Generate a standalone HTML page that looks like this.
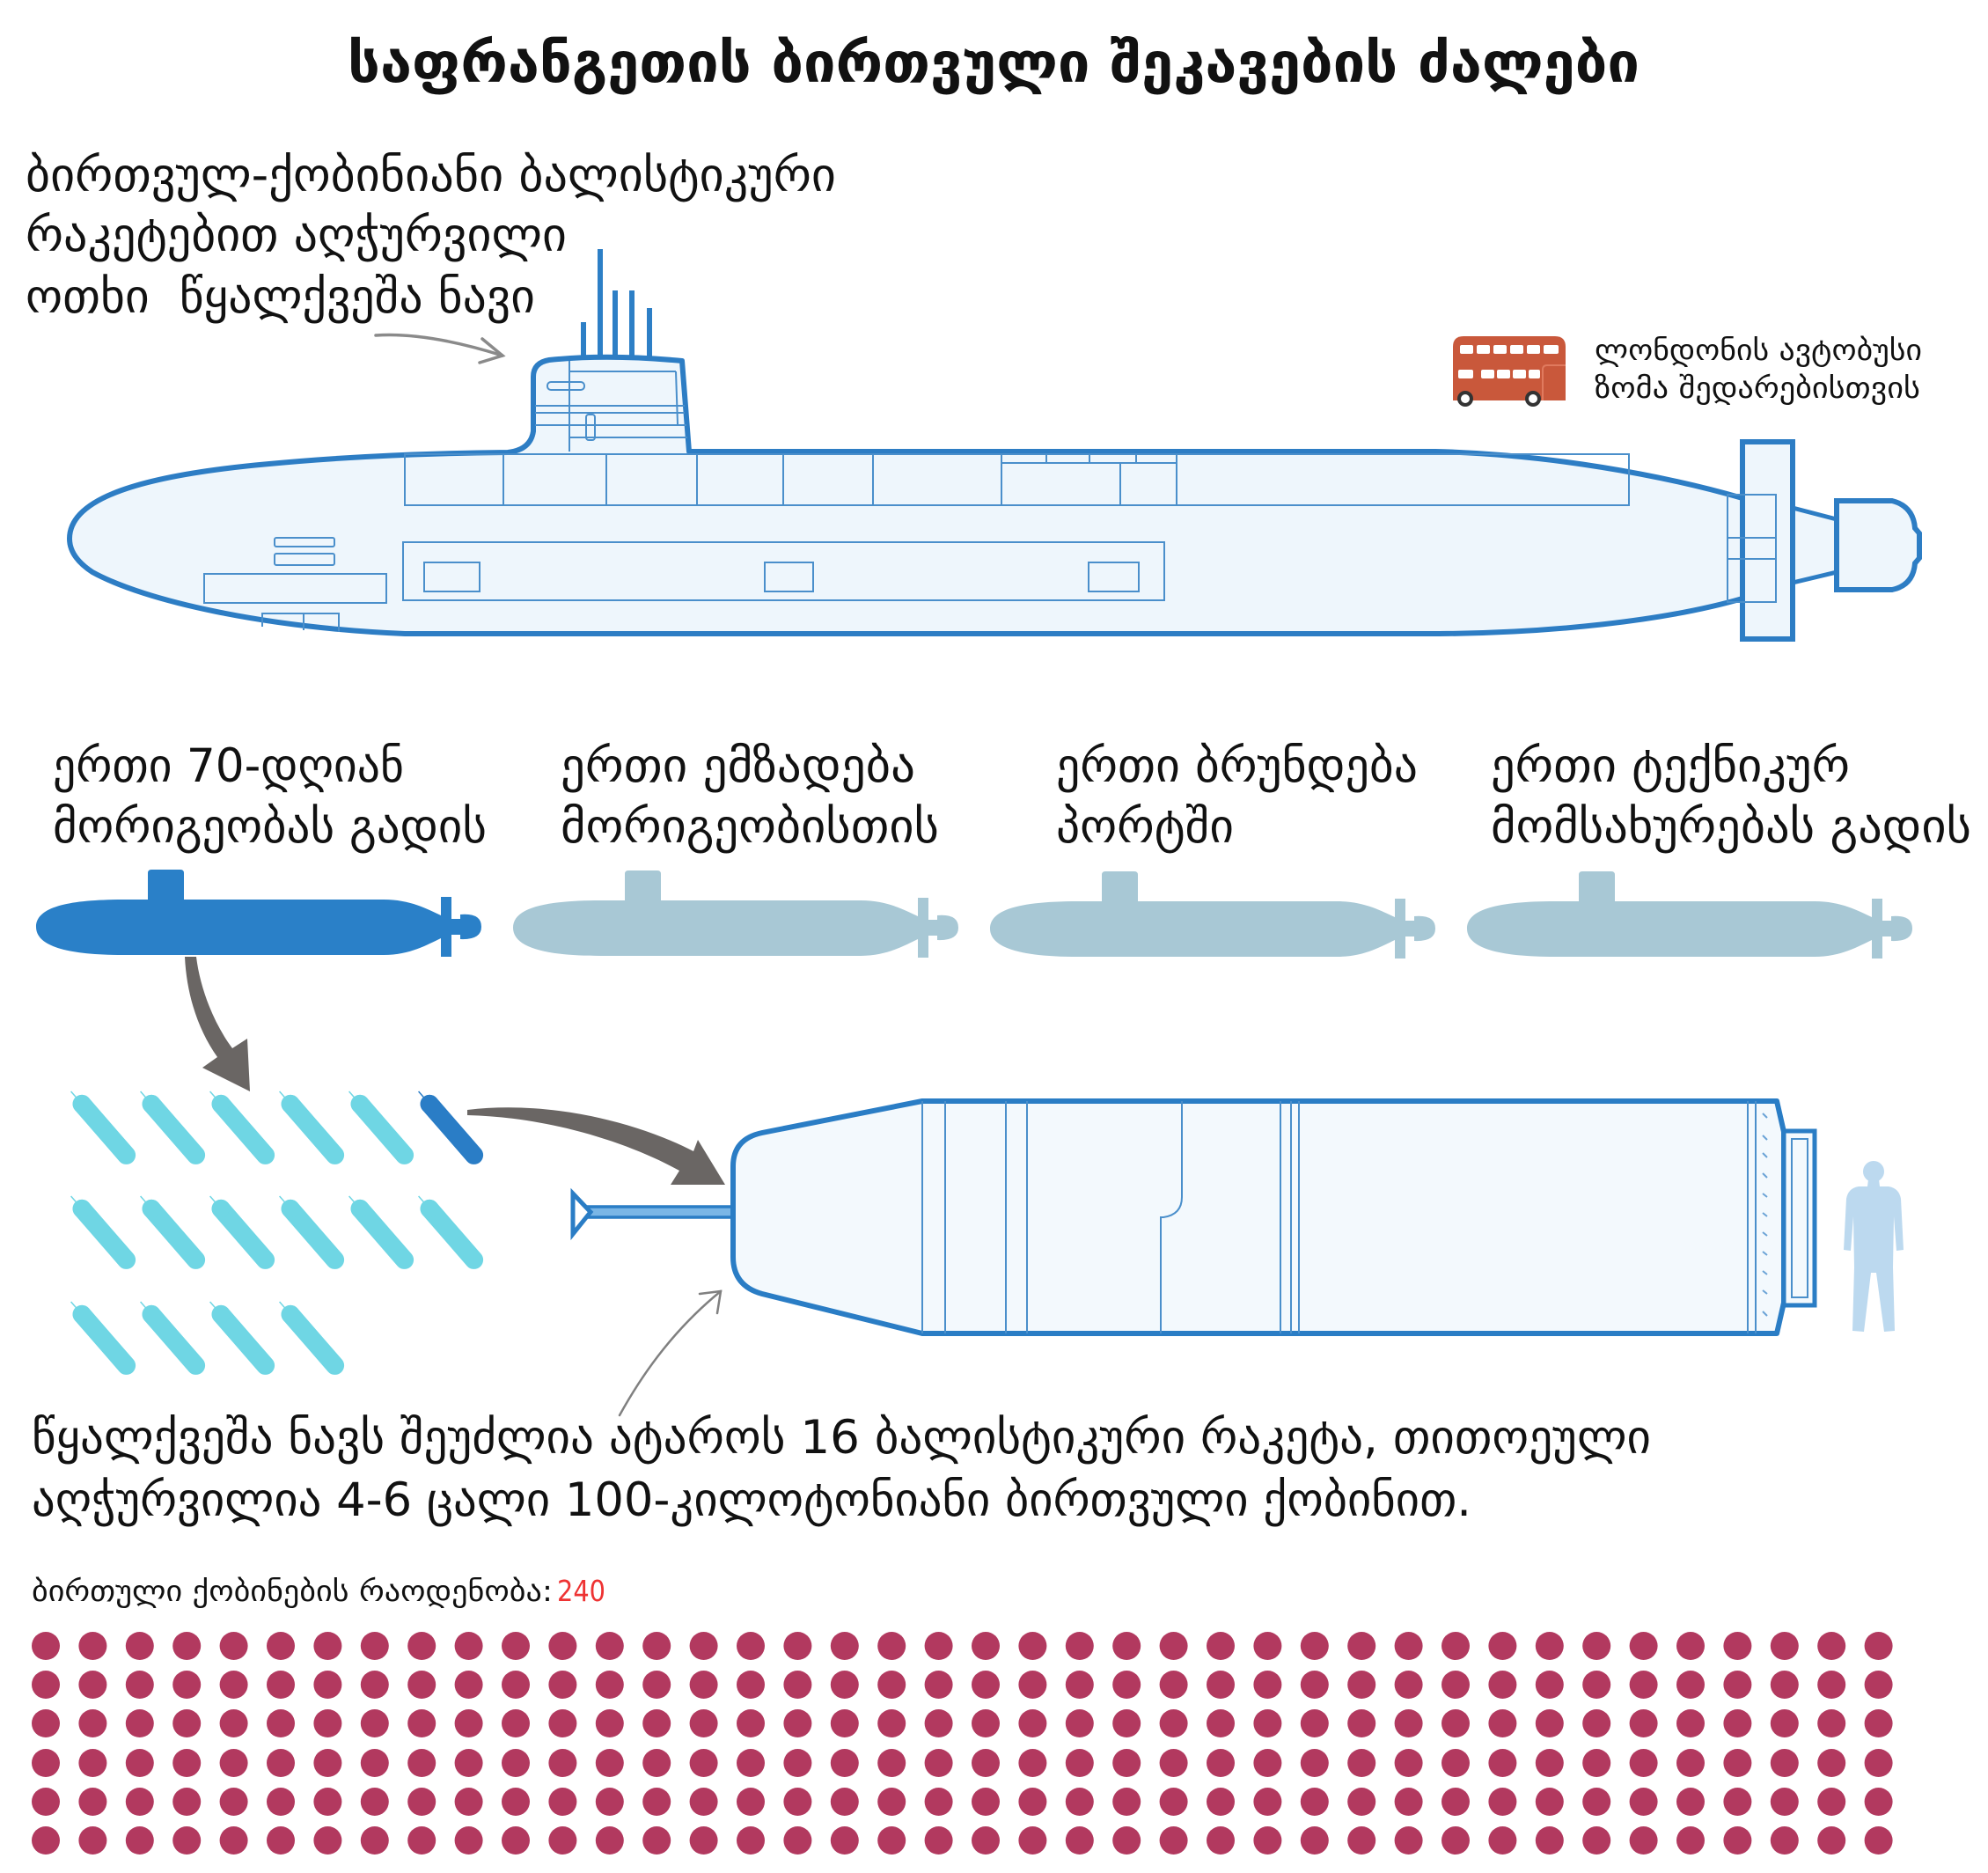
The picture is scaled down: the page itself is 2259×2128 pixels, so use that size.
<!DOCTYPE html>
<html><head><meta charset="utf-8">
<style>
html,body{margin:0;padding:0;background:#fff;}
svg{display:block;}
text{font-family:"DejaVu Sans","Liberation Sans",sans-serif;fill:#111;white-space:pre;}
.ttl{font-weight:bold;}
</style></head>
<body>
<svg width="2259" height="2128" viewBox="0 0 2259 2128" xmlns="http://www.w3.org/2000/svg">
<rect width="2259" height="2128" fill="#fff"/>

<!-- Title -->
<text class="ttl" x="395" y="93" font-size="63" textLength="1468" lengthAdjust="spacingAndGlyphs">საფრანგეთის ბირთვული შეკავების ძალები</text>

<!-- top text -->
<text x="29" y="217" font-size="53" textLength="921" lengthAdjust="spacingAndGlyphs">ბირთვულ-ქობინიანი ბალისტიკური</text>
<text x="29" y="285" font-size="53" textLength="615" lengthAdjust="spacingAndGlyphs">რაკეტებით აღჭურვილი</text>
<text x="29" y="355" font-size="53" textLength="579" lengthAdjust="spacingAndGlyphs">ოთხი  წყალქვეშა ნავი</text>

<!-- annotation arrow top -->
<g fill="none" stroke="#8a8a8a" stroke-width="3.5" stroke-linecap="round">
<path d="M427,381 C470,378 520,388 571,404"/>
<path d="M548,385 L571,404 L545,412"/>
</g>

<!-- masts -->
<g stroke="#2d7fc6" stroke-width="6">
<line x1="682" y1="283" x2="682" y2="412"/>
<line x1="663" y1="366" x2="663" y2="412"/>
<line x1="699" y1="330" x2="699" y2="412"/>
<line x1="718" y1="330" x2="718" y2="412"/>
<line x1="738" y1="350" x2="738" y2="412"/>
</g>

<!-- big submarine hull -->
<path d="M79,612 C79,566 160,540 306,527 C390,519 480,515 577,514 Q603,511 606,490 L606,428 Q606,412 624,409 Q690,402 775,410 L783,513 L1631,513 C1760,516 1890,540 1980,566 L1980,680 C1890,706 1760,719 1636,720 L460,720 C300,713 165,683 105,650 Q79,633 79,612 Z" fill="#eef6fc" stroke="#2d7dc4" stroke-width="6" stroke-linejoin="round"/>

<!-- tail -->
<path d="M2037,577 L2087,590 L2087,650 L2037,662 Z" fill="#eef6fc" stroke="#2d7dc4" stroke-width="5"/>
<path d="M2087,569 L2150,569 Q2174,575 2176,600 L2181,606 L2181,634 L2176,640 Q2174,665 2150,670 L2087,670 Z" fill="#eef6fc" stroke="#2d7dc4" stroke-width="6"/>
<rect x="1980" y="502" width="57" height="224" fill="#eef6fc" stroke="#2d7dc4" stroke-width="6"/>
<g fill="none" stroke="#4a8fcb" stroke-width="2">
<rect x="1963" y="562" width="55" height="122"/>
<line x1="1963" y1="611" x2="2018" y2="611"/>
<line x1="1963" y1="635" x2="2018" y2="635"/>
</g>

<!-- sail interior -->
<g fill="none" stroke="#4a8fcb" stroke-width="2">
<line x1="647" y1="410" x2="647" y2="513"/>
<line x1="647" y1="422" x2="768" y2="422"/>
<line x1="768" y1="422" x2="770" y2="482"/>
<line x1="608" y1="461" x2="778" y2="461"/>
<line x1="608" y1="469" x2="778" y2="469"/>
<line x1="608" y1="483" x2="780" y2="483"/>
<line x1="647" y1="497" x2="781" y2="497"/>
<rect x="622" y="434" width="42" height="9" rx="4"/>
<rect x="666" y="471" width="10" height="29" rx="3"/>
</g>

<!-- compartments -->
<g fill="none" stroke="#4a8fcb" stroke-width="2">
<rect x="460" y="516" width="1391" height="58"/>
<line x1="572" y1="516" x2="572" y2="574"/>
<line x1="689" y1="516" x2="689" y2="574"/>
<line x1="792" y1="516" x2="792" y2="574"/>
<line x1="890" y1="516" x2="890" y2="574"/>
<line x1="992" y1="516" x2="992" y2="574"/>
<line x1="1138" y1="516" x2="1138" y2="574"/>
<line x1="1273" y1="526" x2="1273" y2="574"/>
<line x1="1337" y1="516" x2="1337" y2="574"/>
<line x1="1138" y1="526" x2="1337" y2="526"/>
<line x1="1189" y1="516" x2="1189" y2="526"/>
<line x1="1238" y1="516" x2="1238" y2="526"/>
<line x1="1291" y1="516" x2="1291" y2="526"/>
<rect x="458" y="616" width="865" height="66"/>
<rect x="482" y="639" width="63" height="33"/>
<rect x="869" y="639" width="55" height="33"/>
<rect x="1237" y="639" width="57" height="33"/>
<rect x="312" y="611" width="68" height="10" rx="2"/>
<rect x="312" y="629" width="68" height="13" rx="2"/>
<rect x="232" y="652" width="207" height="33"/>
<path d="M298,712 L298,697 L385,697 L385,718"/>
<line x1="345" y1="697" x2="345" y2="716"/>
</g>

<!-- London bus -->
<g>
<path d="M1651,455 L1651,394 Q1651,382 1663,382 L1767,382 Q1779,382 1779,394 L1779,455 Z" fill="#c9583b"/>
<g fill="#fff">
<rect x="1659" y="392" width="15" height="10" rx="2"/>
<rect x="1678" y="392" width="15" height="10" rx="2"/>
<rect x="1697" y="392" width="15" height="10" rx="2"/>
<rect x="1716" y="392" width="15" height="10" rx="2"/>
<rect x="1735" y="392" width="15" height="10" rx="2"/>
<rect x="1754" y="392" width="17" height="10" rx="2"/>
<rect x="1657" y="420" width="17" height="10" rx="2"/>
<rect x="1683" y="420" width="15" height="10" rx="2"/>
<rect x="1701" y="420" width="15" height="10" rx="2"/>
<rect x="1719" y="420" width="15" height="10" rx="2"/>
<rect x="1737" y="420" width="13" height="10" rx="2"/>
</g>
<path d="M1753,455 L1753,420 Q1753,415 1758,415 L1779,415" fill="none" stroke="#e07a5e" stroke-width="2"/>
<circle cx="1665" cy="453" r="9" fill="#333"/><circle cx="1665" cy="453" r="5" fill="#fff"/>
<circle cx="1742" cy="453" r="9" fill="#333"/><circle cx="1742" cy="453" r="5" fill="#fff"/>
</g>
<text x="1812" y="409" font-size="33" textLength="372" lengthAdjust="spacingAndGlyphs">ლონდონის ავტობუსი</text>
<text x="1812" y="452" font-size="33" textLength="370" lengthAdjust="spacingAndGlyphs">ზომა შედარებისთვის</text>

<!-- labels -->
<text x="60" y="888" font-size="53" textLength="399" lengthAdjust="spacingAndGlyphs">ერთი 70-დღიან</text>
<text x="60" y="957" font-size="53" textLength="493" lengthAdjust="spacingAndGlyphs">მორიგეობას გადის</text>
<text x="637" y="888" font-size="53" textLength="403" lengthAdjust="spacingAndGlyphs">ერთი ემზადება</text>
<text x="637" y="957" font-size="53" textLength="430" lengthAdjust="spacingAndGlyphs">მორიგეობისთის</text>
<text x="1200" y="888" font-size="53" textLength="411" lengthAdjust="spacingAndGlyphs">ერთი ბრუნდება</text>
<text x="1200" y="957" font-size="53" textLength="202" lengthAdjust="spacingAndGlyphs">პორტში</text>
<text x="1694" y="888" font-size="53" textLength="408" lengthAdjust="spacingAndGlyphs">ერთი ტექნიკურ</text>
<text x="1694" y="957" font-size="53" textLength="546" lengthAdjust="spacingAndGlyphs">მომსახურებას გადის</text>

<!-- small subs -->
<defs>
<path id="ss" d="M0,0 C0,-22 35,-31 100,-31 L127,-31 L127,-61 Q127,-65 131,-65 L164,-65 Q168,-65 168,-61 L168,-31 L395,-31 C425,-31 445,-20 460,-13 L460,-34 L472,-34 L472,-9 L482,-9 L482,-14 Q506,-16 506,0 Q506,15 482,14 L482,9 L472,9 L472,34 L460,34 L460,13 C445,20 425,32 395,32 L100,32 C35,32 0,22 0,0 Z"/>
</defs>
<use href="#ss" transform="translate(41,1053)" fill="#2a80c8"/>
<use href="#ss" transform="translate(583,1054)" fill="#a8c8d5"/>
<use href="#ss" transform="translate(1125,1055)" fill="#a8c8d5"/>
<use href="#ss" transform="translate(1667,1055)" fill="#a8c8d5"/>

<!-- arrow 1 -->
<path d="M210,1087 C212,1130 225,1170 247,1201 L230,1213 L284,1240 L281,1180 L264,1191 C241,1160 227,1120 223,1087 Z" fill="#6a6664"/>
<!-- arrow 2 -->
<path d="M531,1261 C620,1250 720,1273 788,1308 L793,1295 L824,1346 L762,1346 L772,1330 C710,1296 620,1269 531,1267 Z" fill="#6a6664"/>

<!-- missiles small -->
<defs>
<g id="mc"><rect x="-48" y="-10" width="97" height="20" rx="10"/><rect x="-48" y="-10" width="20" height="20" rx="10"/><line x1="-48" y1="0" x2="-57" y2="0" stroke-width="1.5"/></g>
</defs>
<g fill="#6fd6e4" stroke="#6fd6e4">
<use href="#mc" transform="translate(118,1283) rotate(49)"/>
<use href="#mc" transform="translate(197,1283) rotate(49)"/>
<use href="#mc" transform="translate(276,1283) rotate(49)"/>
<use href="#mc" transform="translate(355,1283) rotate(49)"/>
<use href="#mc" transform="translate(434,1283) rotate(49)"/>
<use href="#mc" transform="translate(118,1402) rotate(49)"/>
<use href="#mc" transform="translate(197,1402) rotate(49)"/>
<use href="#mc" transform="translate(276,1402) rotate(49)"/>
<use href="#mc" transform="translate(355,1402) rotate(49)"/>
<use href="#mc" transform="translate(434,1402) rotate(49)"/>
<use href="#mc" transform="translate(513,1402) rotate(49)"/>
<use href="#mc" transform="translate(118,1522) rotate(49)"/>
<use href="#mc" transform="translate(197,1522) rotate(49)"/>
<use href="#mc" transform="translate(276,1522) rotate(49)"/>
<use href="#mc" transform="translate(355,1522) rotate(49)"/>
</g>
<g fill="#2a7dc6" stroke="#2a7dc6">
<use href="#mc" transform="translate(513,1283) rotate(49)"/>
</g>

<!-- big missile -->
<path d="M655,1371 L833,1371 L833,1383 L655,1383 Z" fill="#7ab6e6" stroke="#2a7dc5" stroke-width="3.5"/>
<path d="M651,1356 L671,1377 L651,1402 Z" fill="#fff" stroke="#2a7dc5" stroke-width="5" stroke-linejoin="miter"/>
<path d="M1048,1251 L2019,1251 L2027,1286 L2027,1480 L2019,1515 L1048,1515 L866,1470 Q833,1461 833,1428 L833,1325 Q833,1294 866,1287 Z" fill="#f3f9fd" stroke="#2a7dc5" stroke-width="6" stroke-linejoin="round"/>
<g fill="none" stroke="#4a8fcb" stroke-width="2">
<line x1="1048" y1="1251" x2="1048" y2="1515"/>
<line x1="1074" y1="1251" x2="1074" y2="1515"/>
<line x1="1143" y1="1251" x2="1143" y2="1515"/>
<line x1="1167" y1="1251" x2="1167" y2="1515"/>
<path d="M1343,1251 L1343,1360 Q1343,1380 1322,1383 L1319,1383 L1319,1515"/>
<line x1="1455" y1="1251" x2="1455" y2="1515"/>
<line x1="1467" y1="1251" x2="1467" y2="1515"/>
<line x1="1476" y1="1251" x2="1476" y2="1515"/>
<line x1="1986" y1="1251" x2="1986" y2="1515"/>
<line x1="1995" y1="1251" x2="1995" y2="1515"/>
</g>
<g stroke="#6aa3d6" stroke-width="2">
<line x1="2003" y1="1265" x2="2008" y2="1270"/>
<line x1="2003" y1="1290" x2="2008" y2="1295"/>
<line x1="2003" y1="1310" x2="2008" y2="1315"/>
<line x1="2003" y1="1333" x2="2008" y2="1338"/>
<line x1="2003" y1="1356" x2="2008" y2="1360"/>
<line x1="2003" y1="1378" x2="2008" y2="1382"/>
<line x1="2003" y1="1400" x2="2008" y2="1404"/>
<line x1="2003" y1="1422" x2="2008" y2="1426"/>
<line x1="2003" y1="1444" x2="2008" y2="1448"/>
<line x1="2003" y1="1466" x2="2008" y2="1470"/>
<line x1="2003" y1="1490" x2="2008" y2="1495"/>
</g>
<rect x="2027" y="1285" width="35" height="198" fill="#f3f9fd" stroke="#2a7dc5" stroke-width="5"/>
<rect x="2036" y="1294" width="18" height="180" fill="none" stroke="#4a8fcb" stroke-width="2"/>

<!-- human -->
<g fill="#bcd9ef">
<circle cx="2129" cy="1331" r="12"/>
<path d="M2123,1340 L2135,1340 L2136,1348 L2146,1348 Q2158,1350 2160,1362 L2163,1420 L2155,1421 L2152,1382 L2151,1440 L2153,1512 L2141,1513 L2132,1446 L2126,1446 L2118,1513 L2105,1512 L2107,1440 L2106,1382 L2103,1421 L2095,1420 L2098,1362 Q2100,1350 2112,1348 L2122,1348 Z"/>
</g>

<!-- thin annotation arrow -->
<g fill="none" stroke="#808080" stroke-width="2.5" stroke-linecap="round">
<path d="M704,1608 C725,1570 760,1515 819,1467"/>
<path d="M795,1470 L819,1467 L815,1492"/>
</g>

<!-- paragraph -->
<text x="36" y="1651" font-size="53" textLength="1840" lengthAdjust="spacingAndGlyphs">წყალქვეშა ნავს შეუძლია ატაროს 16 ბალისტიკური რაკეტა, თითოეული</text>
<text x="36" y="1722" font-size="53" textLength="1636" lengthAdjust="spacingAndGlyphs">აღჭურვილია 4-6 ცალი 100-კილოტონიანი ბირთვული ქობინით.</text>

<text x="36" y="1819" font-size="33" textLength="592" lengthAdjust="spacingAndGlyphs">ბირთული ქობინების რაოდენობა:</text>
<text x="633" y="1819" font-size="33" textLength="55" lengthAdjust="spacingAndGlyphs" style="fill:#ee3333">240</text>

<!-- dots -->
<defs>
<g id="row">
<circle cx="52" cy="0" r="16"/><circle cx="105.4" cy="0" r="16"/><circle cx="158.8" cy="0" r="16"/><circle cx="212.2" cy="0" r="16"/><circle cx="265.6" cy="0" r="16"/><circle cx="319" cy="0" r="16"/><circle cx="372.4" cy="0" r="16"/><circle cx="425.8" cy="0" r="16"/><circle cx="479.2" cy="0" r="16"/><circle cx="532.6" cy="0" r="16"/>
<circle cx="586" cy="0" r="16"/><circle cx="639.4" cy="0" r="16"/><circle cx="692.8" cy="0" r="16"/><circle cx="746.2" cy="0" r="16"/><circle cx="799.6" cy="0" r="16"/><circle cx="853" cy="0" r="16"/><circle cx="906.4" cy="0" r="16"/><circle cx="959.8" cy="0" r="16"/><circle cx="1013.2" cy="0" r="16"/><circle cx="1066.6" cy="0" r="16"/>
<circle cx="1120" cy="0" r="16"/><circle cx="1173.4" cy="0" r="16"/><circle cx="1226.8" cy="0" r="16"/><circle cx="1280.2" cy="0" r="16"/><circle cx="1333.6" cy="0" r="16"/><circle cx="1387" cy="0" r="16"/><circle cx="1440.4" cy="0" r="16"/><circle cx="1493.8" cy="0" r="16"/><circle cx="1547.2" cy="0" r="16"/><circle cx="1600.6" cy="0" r="16"/>
<circle cx="1654" cy="0" r="16"/><circle cx="1707.4" cy="0" r="16"/><circle cx="1760.8" cy="0" r="16"/><circle cx="1814.2" cy="0" r="16"/><circle cx="1867.6" cy="0" r="16"/><circle cx="1921" cy="0" r="16"/><circle cx="1974.4" cy="0" r="16"/><circle cx="2027.8" cy="0" r="16"/><circle cx="2081.2" cy="0" r="16"/><circle cx="2134.6" cy="0" r="16"/>
</g>
</defs>
<g fill="#b2395f">
<use href="#row" transform="translate(0,1870)"/>
<use href="#row" transform="translate(0,1914)"/>
<use href="#row" transform="translate(0,1958)"/>
<use href="#row" transform="translate(0,2003)"/>
<use href="#row" transform="translate(0,2047)"/>
<use href="#row" transform="translate(0,2091)"/>
</g>
</svg>
</body></html>
